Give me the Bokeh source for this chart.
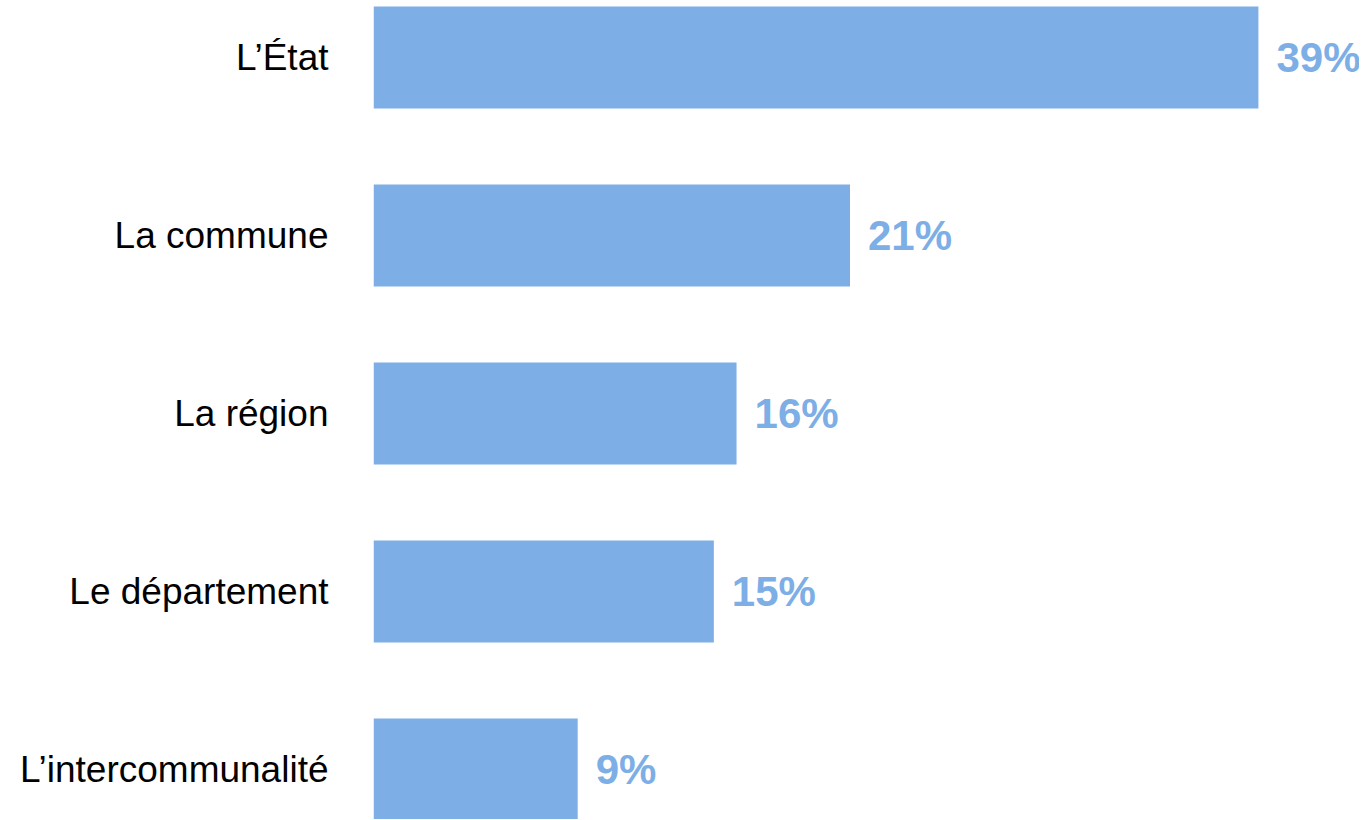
from bokeh.plotting import figure
from bokeh.models import Range1d, ColumnDataSource, FixedTicker
from bokeh.core.properties import value
from bokeh.embed import file_html
from bokeh.resources import INLINE

categories = ["L\u2019\u00c9tat", "La commune", "La r\u00e9gion", "Le d\u00e9partement", "L\u2019intercommunalit\u00e9"]
values = [39, 21, 16, 15, 9]
value_labels = ["39%", "21%", "16%", "15%", "9%"]

n = len(categories)
ypos = [n - i for i in range(n)]

BAR = "#7DAEE6"

W, H = 1359, 819
LEFT = 373
PX_PER_PCT = 22.69
UNIT = 178.0
TOP_OFF = 57

src = ColumnDataSource(dict(y=ypos, v=values, lab=value_labels))

p = figure(width=W, height=H, output_backend="svg", toolbar_location=None,
           x_range=Range1d(0, (W - LEFT) / PX_PER_PCT),
           y_range=Range1d(n + TOP_OFF / UNIT - H / UNIT, n + TOP_OFF / UNIT),
           min_border_left=LEFT, min_border_right=0, min_border_top=0, min_border_bottom=0,
           x_axis_location=None)

p.hbar(y="y", right="v", left=0, height=102 / UNIT, source=src, fill_color=BAR, line_color=None)
p.text(x="v", y="y", text="lab", source=src, x_offset=18, text_align="left", text_baseline="middle",
       text_font=value("Liberation Sans"), text_font_size="42px", text_font_style="bold", text_color=BAR)

ax = p.yaxis[0]
ax.ticker = FixedTicker(ticks=ypos)
ax.major_label_overrides = {y: c for y, c in zip(ypos, categories)}
ax.axis_line_color = None
ax.major_tick_line_color = None
ax.minor_tick_line_color = None
ax.major_tick_out = 0
ax.major_tick_in = 0
ax.major_label_standoff = 45
ax.major_label_text_font = "Liberation Sans"
ax.major_label_text_font_size = "37px"
ax.major_label_text_color = "black"

p.xgrid.visible = False
p.ygrid.visible = False
p.outline_line_color = None
p.background_fill_color = "white"
p.border_fill_color = "white"

open("out.html", "w").write(file_html(p, INLINE))
